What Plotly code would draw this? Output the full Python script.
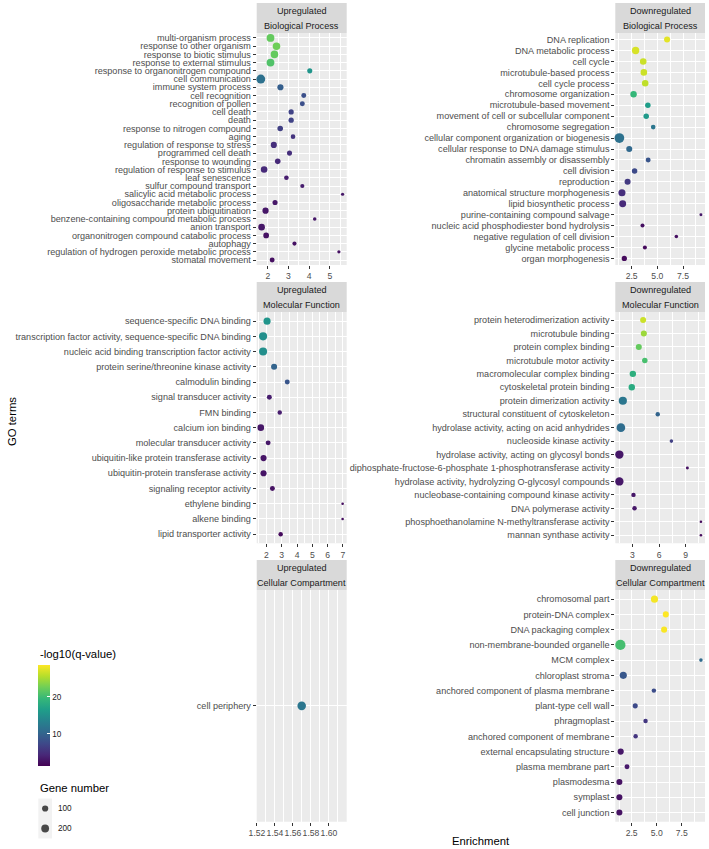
import numpy as np
import plotly.graph_objects as go

W, H = 709, 849
FONT = "Liberation Sans, Arial, Helvetica, sans-serif"

# ---------------- data ----------------
up_bp_terms = ["multi-organism process", "response to other organism", "response to biotic stimulus",
               "response to external stimulus", "response to organonitrogen compound", "cell communication",
               "immune system process", "cell recognition", "recognition of pollen", "cell death", "death",
               "response to nitrogen compound", "aging", "regulation of response to stress",
               "programmed cell death", "response to wounding", "regulation of response to stimulus",
               "leaf senescence", "sulfur compound transport", "salicylic acid metabolic process",
               "oligosaccharide metabolic process", "protein ubiquitination",
               "benzene-containing compound metabolic process", "anion transport",
               "organonitrogen compound catabolic process", "autophagy",
               "regulation of hydrogen peroxide metabolic process", "stomatal movement"]
up_bp_enrich = [2.13, 2.42, 2.32, 2.13, 4.03, 1.66, 2.61, 3.74, 3.67, 3.13, 3.13, 2.60, 3.22, 2.29,
                3.05, 2.48, 1.82, 2.90, 3.67, 5.62, 2.35, 1.89, 4.27, 1.70, 1.92, 3.29, 5.44, 2.21]
up_bp_logq = [22, 22.5, 22, 21, 15.5, 11.5, 9.5, 8, 8, 6.8, 6.8, 6.5, 5.4, 5, 5, 4.5, 4.5, 3.5, 3.5,
              3, 3, 3, 3, 3, 2.6, 2.6, 2.5, 2.5]
up_bp_genes = [200, 180, 180, 200, 50, 290, 95, 45, 45, 55, 55, 70, 35, 95, 50, 70, 120, 35, 22, 8,
               50, 100, 12, 120, 75, 22, 8, 45]

down_bp_terms = ["DNA replication", "DNA metabolic process", "cell cycle", "microtubule-based process",
                 "cell cycle process", "chromosome organization", "microtubule-based movement",
                 "movement of cell or subcellular component", "chromosome segregation",
                 "cellular component organization or biogenesis", "cellular response to DNA damage stimulus",
                 "chromatin assembly or disassembly", "cell division", "reproduction",
                 "anatomical structure morphogenesis", "lipid biosynthetic process",
                 "purine-containing compound salvage", "nucleic acid phosphodiester bond hydrolysis",
                 "negative regulation of cell division", "glycine metabolic process", "organ morphogenesis"]
down_bp_enrich = [5.95, 2.89, 3.63, 3.69, 3.82, 2.69, 4.08, 3.92, 4.60, 1.31, 2.27, 4.11, 2.79, 2.11,
                  1.56, 1.63, 9.24, 3.56, 6.85, 3.79, 1.79]
down_bp_logq = [27.5, 27, 26.5, 26.5, 26, 19.5, 16.5, 16, 12, 11.5, 10.5, 8.5, 7.5, 6, 5, 4.5, 3, 2.5,
                2.5, 2, 2]
down_bp_genes = [90, 170, 120, 120, 115, 110, 65, 65, 35, 370, 90, 45, 65, 90, 150, 140, 6, 20, 12, 20, 55]

up_mf_terms = ["sequence-specific DNA binding",
               "transcription factor activity, sequence-specific DNA binding",
               "nucleic acid binding transcription factor activity", "protein serine/threonine kinase activity",
               "calmodulin binding", "signal transducer activity", "FMN binding", "calcium ion binding",
               "molecular transducer activity", "ubiquitin-like protein transferase activity",
               "ubiquitin-protein transferase activity", "signaling receptor activity", "ethylene binding",
               "alkene binding", "lipid transporter activity"]
up_mf_enrich = [2.04, 1.78, 1.78, 2.50, 3.36, 2.19, 2.87, 1.63, 2.11, 1.81, 1.81, 2.39, 6.98, 6.98, 2.93]
up_mf_logq = [15.5, 14.8, 14.8, 10, 8.5, 3.5, 3.5, 3, 3, 2.8, 2.8, 2.6, 2.2, 2.2, 2]
up_mf_genes = [150, 220, 220, 90, 45, 45, 30, 120, 45, 95, 95, 45, 5, 5, 30]

down_mf_terms = ["protein heterodimerization activity", "microtubule binding", "protein complex binding",
                 "microtubule motor activity", "macromolecular complex binding", "cytoskeletal protein binding",
                 "protein dimerization activity", "structural constituent of cytoskeleton",
                 "hydrolase activity, acting on acid anhydrides", "nucleoside kinase activity",
                 "hydrolase activity, acting on glycosyl bonds",
                 "diphosphate-fructose-6-phosphate 1-phosphotransferase activity",
                 "hydrolase activity, hydrolyzing O-glycosyl compounds",
                 "nucleobase-containing compound kinase activity", "DNA polymerase activity",
                 "phosphoethanolamine N-methyltransferase activity", "mannan synthase activity"]
down_mf_enrich = [4.20, 4.28, 3.71, 4.39, 3.04, 2.92, 1.91, 5.85, 1.69, 7.39, 1.52, 9.19, 1.52, 3.11,
                  3.23, 10.72, 10.72]
down_mf_logq = [26.5, 24.5, 22, 20.5, 18.5, 18, 12, 10, 11, 6.5, 3, 2.5, 3, 3, 3, 2, 2]
down_mf_genes = [90, 90, 90, 65, 110, 110, 230, 30, 270, 12, 240, 6, 240, 30, 30, 5, 5]

up_cc_terms = ["cell periphery"]
up_cc_enrich = [1.5697]
up_cc_logq = [12]
up_cc_genes = [260]

down_cc_terms = ["chromosomal part", "protein-DNA complex", "DNA packaging complex",
                 "non-membrane-bounded organelle", "MCM complex", "chloroplast stroma",
                 "anchored component of plasma membrane", "plant-type cell wall", "phragmoplast",
                 "anchored component of membrane", "external encapsulating structure",
                 "plasma membrane part", "plasmodesma", "symplast", "cell junction"]
down_cc_enrich = [4.78, 5.91, 5.74, 1.38, 9.41, 1.67, 4.72, 2.86, 3.89, 2.90, 1.41, 2.04, 1.28, 1.28, 1.28]
down_cc_logq = [28.2, 28.6, 28.4, 20.4, 10.8, 8.7, 7.8, 7.5, 5.7, 5.5, 3, 3.2, 2.6, 2.6, 2.6]
down_cc_genes = [150, 90, 90, 420, 12, 150, 30, 50, 30, 30, 95, 45, 90, 90, 90]

strip_top = ["Upregulated", "Downregulated"]
strip_bottom = ["Biological Process", "Molecular Function", "Cellular Compartment"]

ticks_bp_up = [2, 3, 4, 5]
ticks_bp_down = [2.5, 5.0, 7.5]
ticks_mf_up = [2, 3, 4, 5, 6, 7]
ticks_mf_down = [3, 6, 9]
ticks_cc_up = [1.52, 1.54, 1.56, 1.58, 1.60]
ticks_cc_down = [2.5, 5.0, 7.5]
labels_bp_up = ["2", "3", "4", "5"]
labels_bp_down = ["2.5", "5.0", "7.5"]
labels_mf_up = ["2", "3", "4", "5", "6", "7"]
labels_mf_down = ["3", "6", "9"]
labels_cc_up = ["1.52", "1.54", "1.56", "1.58", "1.60"]
labels_cc_down = ["2.5", "5.0", "7.5"]

legend_genes = [100, 200]
legend_labels = ["100", "200"]
color_ticks = [10, 20]

# ---------------- scales ----------------
all_genes = up_bp_genes + down_bp_genes + up_mf_genes + down_mf_genes + up_cc_genes + down_cc_genes
GMIN, GMAX = min(all_genes), max(all_genes)
DMIN, DMAX = 2.6, 10.2


def size_scale(g):
    g = np.asarray(g, dtype=float)
    return DMIN + (DMAX - DMIN) * np.sqrt(np.clip((g - GMIN) / (GMAX - GMIN), 0, 1))


CMIN, CMAX = 1.3, 28.6

panels = [
    (up_bp_terms, up_bp_enrich, up_bp_logq, up_bp_genes, 0, 0, ticks_bp_up, labels_bp_up),
    (down_bp_terms, down_bp_enrich, down_bp_logq, down_bp_genes, 0, 1, ticks_bp_down, labels_bp_down),
    (up_mf_terms, up_mf_enrich, up_mf_logq, up_mf_genes, 1, 0, ticks_mf_up, labels_mf_up),
    (down_mf_terms, down_mf_enrich, down_mf_logq, down_mf_genes, 1, 1, ticks_mf_down, labels_mf_down),
    (up_cc_terms, up_cc_enrich, up_cc_logq, up_cc_genes, 2, 0, ticks_cc_up, labels_cc_up),
    (down_cc_terms, down_cc_enrich, down_cc_logq, down_cc_genes, 2, 1, ticks_cc_down, labels_cc_down),
]

# pixel geometry
col_x = [(256.7, 346.7), (615.3, 705.0)]
row_y = [(33.0, 265.0), (312.0, 543.3), (590.0, 821.7)]
strip_y = [(3.0, 33.0), (282.0, 312.0), (560.0, 590.0)]


def fx(px):
    return px / W


def fy(py):
    return 1 - py / H


fig = go.Figure()
layout = dict(shapes=[], annotations=[])

for k, (terms, enr, lq, genes, r, c, tv, tt) in enumerate(panels, start=1):
    xs = "" if k == 1 else str(k)
    fig.add_trace(go.Scatter(
        x=enr, y=terms, mode="markers",
        marker=dict(size=size_scale(genes), color=lq, coloraxis="coloraxis",
                    line=dict(width=0), opacity=1),
        xaxis="x" + xs, yaxis="y" + xs, showlegend=False, cliponaxis=False,
        hovertemplate="%{y}<br>Enrichment %{x}<extra></extra>"))

    lo, hi = min(enr), max(enr)
    w = hi - lo
    if w == 0:
        xr = [lo - 0.05, hi + 0.05]
    else:
        xr = [lo - 0.05 * w, hi + 0.05 * w]
    step = tv[1] - tv[0]
    minor = [tv[0] - step / 2] + [t + step / 2 for t in tv]
    minor = [m for m in minor if xr[0] <= m <= xr[1]]

    x0, x1 = col_x[c]
    y0, y1 = row_y[r]
    n = len(terms)
    layout["xaxis" + xs] = dict(
        domain=[fx(x0), fx(x1)], anchor="y" + xs, range=xr,
        tickmode="array", tickvals=tv, ticktext=tt, tickangle=0,
        ticks="outside", ticklen=3, tickwidth=0.8, tickcolor="#333333",
        tickfont=dict(size=8.6, color="#4D4D4D", family=FONT),
        showgrid=True, gridcolor="white", gridwidth=1,
        minor=dict(tickvals=minor, showgrid=True, gridcolor="white", gridwidth=0.5, ticks=""),
        zeroline=False, showline=False)
    layout["yaxis" + xs] = dict(
        domain=[fy(y1), fy(y0)], anchor="x" + xs, type="category",
        categoryorder="array", categoryarray=terms, range=[n - 1 + 0.6, -0.6],
        tickmode="array", tickvals=terms, ticktext=terms,
        ticks="outside", ticklen=3, tickwidth=0.8, tickcolor="#333333",
        tickfont=dict(size=9.1, color="#4D4D4D", family=FONT),
        showgrid=True, gridcolor="white", gridwidth=1,
        zeroline=False, showline=False)

    layout["shapes"].append(dict(type="rect", xref="paper", yref="paper",
                                 x0=fx(x0), x1=fx(x1), y0=fy(y1), y1=fy(y0),
                                 fillcolor="#EBEBEB", line=dict(width=0), layer="below"))
    s0, s1 = strip_y[r]
    layout["shapes"].append(dict(type="rect", xref="paper", yref="paper",
                                 x0=fx(x0), x1=fx(x1), y0=fy(s1), y1=fy(s0),
                                 fillcolor="#D9D9D9", line=dict(width=0), layer="below"))
    cx = (x0 + x1) / 2
    layout["annotations"].append(dict(text=strip_top[c], x=fx(cx), y=fy(s0 + 8.2), xref="paper", yref="paper",
                                      xanchor="center", yanchor="middle", showarrow=False,
                                      font=dict(size=9.1, color="#1A1A1A", family=FONT)))
    layout["annotations"].append(dict(text=strip_bottom[r], x=fx(cx), y=fy(s0 + 22.6), xref="paper",
                                      yref="paper", xanchor="center", yanchor="middle", showarrow=False,
                                      font=dict(size=9.1, color="#1A1A1A", family=FONT)))

# size legend keys (own hidden axes)
fig.add_trace(go.Scatter(
    x=[0.5, 0.5], y=[1.5, 0.5], mode="markers",
    marker=dict(size=size_scale(legend_genes), color="black", line=dict(width=0)),
    xaxis="x7", yaxis="y7", showlegend=False, hoverinfo="skip"))
layout["xaxis7"] = dict(domain=[fx(38.3), fx(52.0)], anchor="y7", range=[0, 1], visible=False)
layout["yaxis7"] = dict(domain=[fy(838.5), fy(798.5)], anchor="x7", range=[0, 2], visible=False)
layout["shapes"].append(dict(type="rect", xref="paper", yref="paper",
                             x0=fx(38.3), x1=fx(52.0), y0=fy(838.5), y1=fy(798.5),
                             fillcolor="#F2F2F2", line=dict(width=0), layer="below"))
for lab, py in zip(legend_labels, [808.5, 828.5]):
    layout["annotations"].append(dict(text=lab, x=fx(56), y=fy(py), xref="paper", yref="paper",
                                      xanchor="left", yanchor="middle", showarrow=False,
                                      font=dict(size=8.2, color="#1A1A1A", family=FONT)))

layout["annotations"] += [
    dict(text="Enrichment", x=fx(481), y=fy(840.5), xref="paper", yref="paper", xanchor="center",
         yanchor="middle", showarrow=False, font=dict(size=11.3, color="black", family=FONT)),
    dict(text="GO terms", x=fx(12), y=fy(422), xref="paper", yref="paper", xanchor="center",
         yanchor="middle", textangle=-90, showarrow=False, font=dict(size=11.3, color="black", family=FONT)),
    dict(text="-log10(q-value)", x=fx(37.5), y=fy(654), xref="paper", yref="paper", xanchor="left",
         yanchor="middle", showarrow=False, font=dict(size=11.3, color="black", family=FONT)),
    dict(text="Gene number", x=fx(37.5), y=fy(787.7), xref="paper", yref="paper", xanchor="left",
         yanchor="middle", showarrow=False, font=dict(size=11.3, color="black", family=FONT)),
]

layout["coloraxis"] = dict(
    colorscale="Viridis", cmin=CMIN, cmax=CMAX,
    colorbar=dict(x=fx(38.3), xanchor="left", y=fy(665), yanchor="top",
                  len=101, lenmode="pixels", thickness=12.4, thicknessmode="pixels",
                  outlinewidth=0, xpad=0, ypad=0, title=dict(text=""),
                  tickmode="array", tickvals=color_ticks, ticktext=[str(t) for t in color_ticks],
                  ticks="inside", ticklen=2.5, tickcolor="white", tickwidth=1,
                  tickfont=dict(size=8.2, color="#1A1A1A", family=FONT)))

fig.update_layout(
    template="none", width=W, height=H,
    margin=dict(l=0, r=0, t=0, b=0, pad=0),
    paper_bgcolor="white", plot_bgcolor="rgba(0,0,0,0)",
    font=dict(family=FONT, color="#1A1A1A"),
    showlegend=False, hovermode="closest",
    **layout)

fig.write_html("out.html", config={"displayModeBar": False},
               post_script="document.body.style.margin='0';document.body.style.overflow='hidden';")
